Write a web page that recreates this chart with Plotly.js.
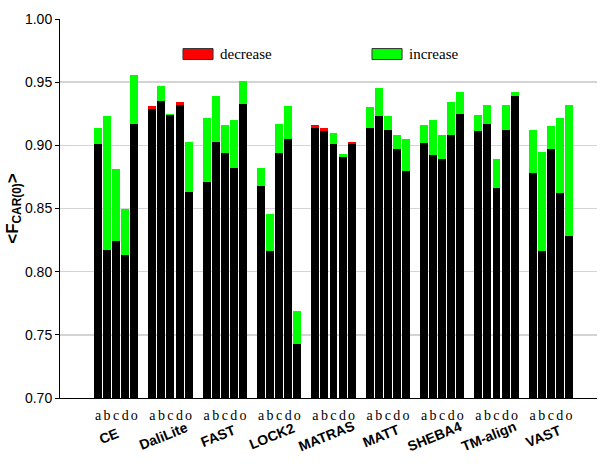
<!DOCTYPE html>
<html>
<head>
<meta charset="utf-8">
<script src="https://cdn.plot.ly/plotly-3.0.1.min.js"></script>
<style>
  html, body { margin: 0; padding: 0; background: #fff; }
  #chart { width: 600px; height: 467px; }
</style>
</head>
<body>
<div id="chart"></div>
<script>
const methods = ["CE", "DaliLite", "FAST", "LOCK2", "MATRAS", "MATT", "SHEBA4", "TM-align", "VAST"];
const variants = ["a", "b", "c", "d", "o"];

// black part of each bar
const baseVals = [
    [0.901, 0.817, 0.824, 0.813, 0.917],
    [0.929, 0.935, 0.924, 0.932, 0.863],
    [0.871, 0.903, 0.894, 0.882, 0.933],
    [0.868, 0.816, 0.894, 0.905, 0.743],
    [0.914, 0.911, 0.901, 0.891, 0.901],
    [0.914, 0.923, 0.912, 0.897, 0.880],
    [0.902, 0.892, 0.889, 0.908, 0.925],
    [0.911, 0.917, 0.866, 0.912, 0.939],
    [0.878, 0.816, 0.897, 0.862, 0.828]
];
// green part
const increaseVals = [
    [0.013, 0.106, 0.057, 0.037, 0.039],
    [0.000, 0.012, 0.001, 0.000, 0.040],
    [0.051, 0.036, 0.022, 0.038, 0.018],
    [0.014, 0.030, 0.023, 0.026, 0.026],
    [0.000, 0.000, 0.009, 0.002, 0.000],
    [0.016, 0.022, 0.011, 0.011, 0.025],
    [0.014, 0.028, 0.019, 0.026, 0.017],
    [0.013, 0.015, 0.023, 0.020, 0.003],
    [0.034, 0.079, 0.018, 0.060, 0.104]
];
// red part
const decreaseVals = [
    [0, 0, 0, 0, 0],
    [0.002, 0, 0, 0.002, 0],
    [0, 0, 0, 0, 0],
    [0, 0, 0, 0, 0],
    [0.002, 0.003, 0, 0, 0.002],
    [0, 0, 0, 0, 0],
    [0, 0, 0, 0, 0],
    [0, 0, 0, 0, 0],
    [0, 0, 0, 0, 0]
];

// one slot per bar plus an empty slot between methods
const slot = variants.length + 1;
let xs = [], letters = [], blk = [], grn = [], red = [];
for (let g = 0; g < methods.length; g++) {
    for (let j = 0; j < variants.length; j++) {
        xs.push(g * slot + j);
        letters.push(variants[j]);
        blk.push(baseVals[g][j]);
        grn.push(increaseVals[g][j]);
        red.push(decreaseVals[g][j]);
    }
}

const traces = [
    { x: xs, y: blk, type: 'bar', marker: { color: '#000000' }, showlegend: false, hoverinfo: 'y' },
    { x: xs, y: grn, type: 'bar', marker: { color: '#00ff00' }, name: 'increase', showlegend: false },
    { x: xs, y: red, type: 'bar', marker: { color: '#ff0000' }, name: 'decrease', showlegend: false }
];

let annotations = methods.map(function(m, g) {
    return {
        text: '<b>' + m + '</b>',
        x: g * slot + 2 - 0.8, xref: 'x',
        y: -0.1, yref: 'paper',
        xanchor: 'center', yanchor: 'middle',
        textangle: -22,
        showarrow: false,
        font: { family: 'Liberation Sans, Arial', size: 14, color: '#000' }
    };
});

// legend drawn as boxes + labels
const legendItems = [
    { label: 'decrease', color: '#ff0000', x0: 0.229 },
    { label: 'increase', color: '#00ff00', x0: 0.581 }
];
let shapes = [];
legendItems.forEach(function(it) {
    shapes.push({
        type: 'rect', xref: 'paper', yref: 'paper',
        x0: it.x0, x1: it.x0 + 0.056, y0: 0.893, y1: 0.922,
        fillcolor: it.color, line: { color: '#333', width: 1 }
    });
    annotations.push({
        text: it.label, xref: 'paper', yref: 'paper',
        x: it.x0 + 0.066, y: 0.908, xanchor: 'left', yanchor: 'middle',
        showarrow: false,
        font: { family: 'Liberation Serif, Times New Roman', size: 15, color: '#000' }
    });
});

const layout = {
    width: 600, height: 467,
    margin: { l: 60, r: 3, t: 19, b: 69 },
    paper_bgcolor: '#ffffff',
    plot_bgcolor: '#ffffff',
    barmode: 'stack',
    bargap: 0.12,
    showlegend: false,
    xaxis: {
        range: [-4.2, 55.1],
        tickmode: 'array', tickvals: xs, ticktext: letters,
        ticks: '', showgrid: false, zeroline: false,
        showline: true, linecolor: '#000', linewidth: 1,
        tickangle: 0,
        tickfont: { family: 'Liberation Serif, Times New Roman', size: 14, color: '#000' },
        ticklabelstandoff: 4
    },
    yaxis: {
        range: [0.70, 1.00],
        dtick: 0.05, tick0: 0.70, tickformat: '.2f',
        ticks: 'outside', ticklen: 4, tickcolor: '#000',
        showline: true, linecolor: '#000', linewidth: 1,
        showgrid: true, gridcolor: '#d4d4d4', gridwidth: 1.5,
        zeroline: false,
        tickfont: { family: 'Liberation Sans, Arial', size: 14, color: '#000' },
        title: {
            text: '<b>&lt;F<sub>CAR(0)</sub>&gt;</b>',
            font: { family: 'Liberation Sans, Arial', size: 17, color: '#000' },
            standoff: 2
        }
    },
    shapes: shapes,
    annotations: annotations
};

Plotly.newPlot('chart', traces, layout, { displayModeBar: false, staticPlot: true });
</script>
</body>
</html>
